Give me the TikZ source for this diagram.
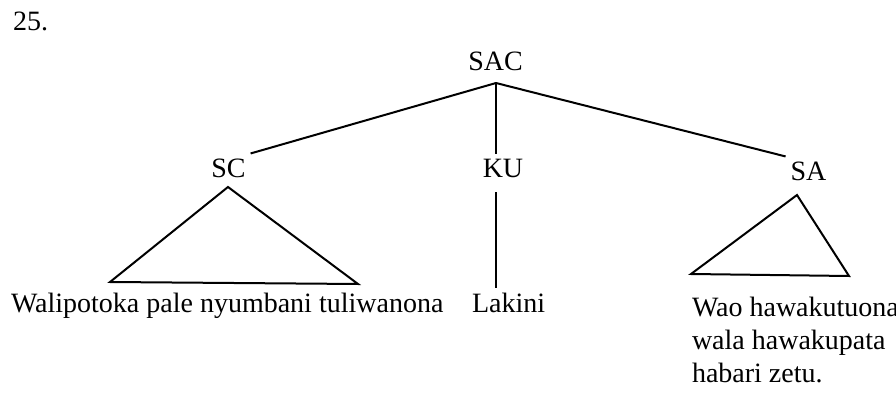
\documentclass[tikz,border=0pt]{standalone}
\usepackage{fontspec}
\setmainfont{Liberation Serif}

\begin{document}
\begin{tikzpicture}[x=0.5pt, y=-0.5pt, line width=1pt,
  lbl/.style={anchor=base, inner sep=2pt, font=\fontsize{14}{16.5}\selectfont},
  leaf/.style={lbl, anchor=base west, align=left}]

  \useasboundingbox (0,0) rectangle (896,396);

  % Number
  \node[leaf] (num) at (8,31) {25.};

  % Top
  \node[lbl] (sac) at (495.5,70) {SAC};
  \coordinate (top) at (496,83);

  % Branches
  \node[lbl] (sc) at (228.5,177) {SC};
  \node[lbl] (ku) at (503,177) {KU};
  \node[lbl] (sa) at (808.5,180) {SA};
  \draw (top) -- (sc.north east);
  \draw (top) -- (top |- ku.north);
  \draw (top) -- (sa.north west);

  % Leaves (base = last line)
  \node[leaf] (scleaf) at (6,312) {Walipotoka pale nyumbani tuliwanona};
  \node[leaf] (kuleaf) at (467,312) {Lakini};
  \node[leaf] (saleaf) at (687,382) {Wao hawakutuona\\wala hawakupata\\habari zetu.};

  % Triangles
  \draw (228,187) -- (110,282) -- (358,284) -- cycle;
  \draw (797,195) -- (691,274) -- (849,276) -- cycle;
  \coordinate (kuleg) at (496,192);
  \draw (kuleg) -- (kuleg |- kuleaf.north);

\end{tikzpicture}
\end{document}
